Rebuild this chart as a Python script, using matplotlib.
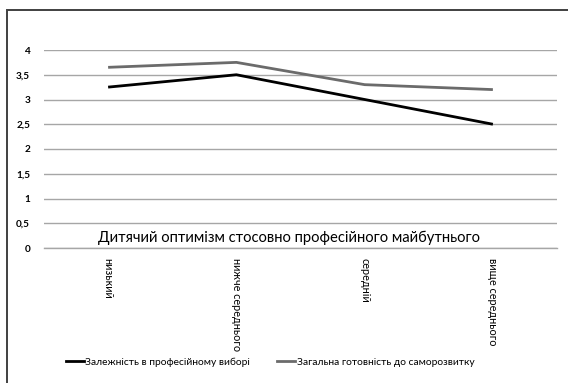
import matplotlib
matplotlib.use("Agg")
import matplotlib.pyplot as plt
from matplotlib.lines import Line2D
from matplotlib.patches import Rectangle

plt.rcParams['font.family'] = ['Lato', 'Open Sans', 'DejaVu Sans']

categories = ["низький", "нижче середнього", "середній", "вище середнього"]
dependence = [3.25, 3.5, 3.0, 2.5]
readiness = [3.65, 3.75, 3.3, 3.2]
y_ticks = [0, 0.5, 1, 1.5, 2, 2.5, 3, 3.5, 4]
y_labels = ["0", "0,5", "1", "1,5", "2", "2,5", "3", "3,5", "4"]
series_names = ["Залежність в професійному виборі", "Загальна готовність до саморозвитку"]
title = "Дитячий оптимізм стосовно професійного майбутнього"

W, H = 568, 383
fig = plt.figure(figsize=(W / 100, H / 100), dpi=100)

# outer chart frame
fig.patches.append(Rectangle((7 / W, -0.05), 1.2, (H - 10) / H + 0.05,
                             transform=fig.transFigure, fill=False,
                             edgecolor="#404040", linewidth=1.4))

ax = fig.add_axes([44 / W, 1 - 248 / H, (557 - 44) / W, (248 - 50) / H])
x = range(len(categories))
ax.plot(x, dependence, color="#000000", linewidth=2.0, solid_capstyle="butt")
ax.plot(x, readiness, color="#6b6b6b", linewidth=2.0, solid_capstyle="butt")

ax.set_xlim(-0.5, len(categories) - 0.5)
ax.set_ylim(0, 4)
ax.set_yticks(y_ticks)
ax.set_yticklabels(y_labels, fontsize=7.2, fontweight="bold")
ax.yaxis.grid(True, color="#a6a6a6", linewidth=1.0)
ax.set_axisbelow(True)
for s in ["top", "right", "left"]:
    ax.spines[s].set_visible(False)
ax.spines["bottom"].set_color("#a6a6a6")
ax.spines["bottom"].set_linewidth(1.0)
ax.tick_params(axis="y", length=0, pad=10)
ax.tick_params(axis="x", length=0, pad=7)
ax.set_xticks(list(x))
ax.set_xticklabels(categories, rotation=-90, fontsize=7.8, va="top", ha="center")

ax.text(0.477, 0.015, title, transform=ax.transAxes, ha="center", va="bottom",
        fontsize=10.6, color="#000000")

handles = [Line2D([], [], color="#000000", linewidth=2.0),
           Line2D([], [], color="#6b6b6b", linewidth=2.0)]
fig.legend(handles, series_names, loc="center", bbox_to_anchor=(270 / W, 1 - 362 / H),
           ncol=2, frameon=False, fontsize=7.4, handlelength=1.8, handletextpad=0.1,
           columnspacing=2.6)

fig.savefig("out.png", dpi=100, facecolor="white")
